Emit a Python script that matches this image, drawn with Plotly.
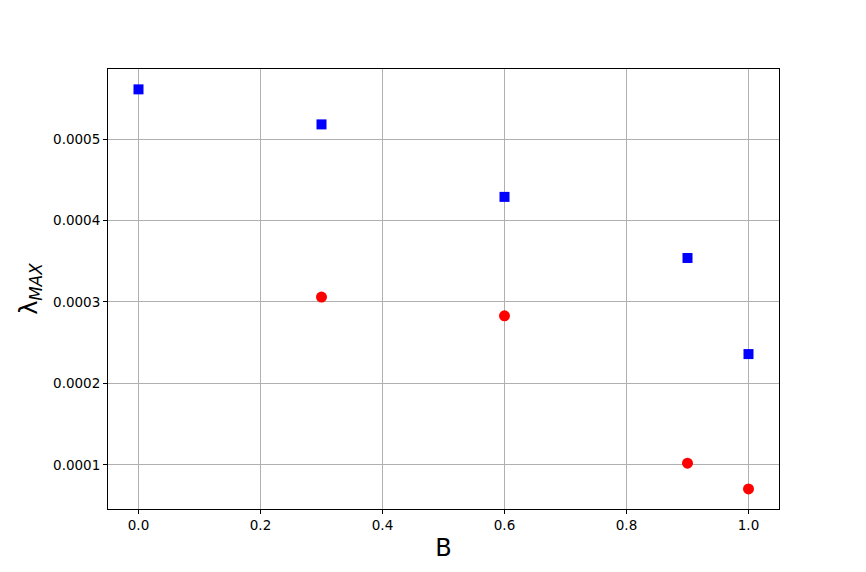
import plotly.graph_objects as go

x_blue = [0.0, 0.3, 0.6, 0.9, 1.0]
y_blue = [0.000561, 0.000518, 0.000429, 0.000354, 0.000236]
x_red = [0.3, 0.6, 0.9, 1.0]
y_red = [0.000306, 0.000283, 0.000102, 0.0000705]

x_ticks = [0.0, 0.2, 0.4, 0.6, 0.8, 1.0]
y_ticks = [0.0001, 0.0002, 0.0003, 0.0004, 0.0005]

fig = go.Figure()
fig.add_trace(go.Scatter(x=x_blue, y=y_blue, mode="markers",
                         marker=dict(symbol="square", size=10, color="blue",
                                     line=dict(width=0)), showlegend=False))
fig.add_trace(go.Scatter(x=x_red, y=y_red, mode="markers",
                         marker=dict(symbol="circle", size=11, color="red",
                                     line=dict(width=0)), showlegend=False))

axis_common = dict(showline=True, linecolor="black", linewidth=1, mirror=True,
                   showgrid=True, gridcolor="#b0b0b0", gridwidth=1,
                   ticks="outside", ticklen=4, tickcolor="black", tickwidth=1,
                   zeroline=False,
                   tickfont=dict(family="DejaVu Sans", size=13.5, color="black"))

fig.update_xaxes(range=[-0.05, 1.05], tickvals=x_ticks,
                 ticktext=[f"{v:.1f}" for v in x_ticks],
                 title=dict(text="B", font=dict(family="DejaVu Sans", size=24, color="black"),
                            standoff=6),
                 **axis_common)
fig.update_yaxes(range=[0.0000458, 0.000586], tickvals=y_ticks,
                 ticktext=[f"{v:.4f}" for v in y_ticks],
                 title=dict(text="λ<sub><i>MAX</i></sub>",
                            font=dict(family="DejaVu Sans", size=24, color="black"),
                            standoff=8),
                 **axis_common)

# page body has an 8px margin; compensate so the plot area lands where the reference has it
fig.update_layout(width=858, height=564,
                  margin=dict(l=100, r=87, t=61, b=63),
                  plot_bgcolor="white", paper_bgcolor="white")

fig.write_html("out.html")
